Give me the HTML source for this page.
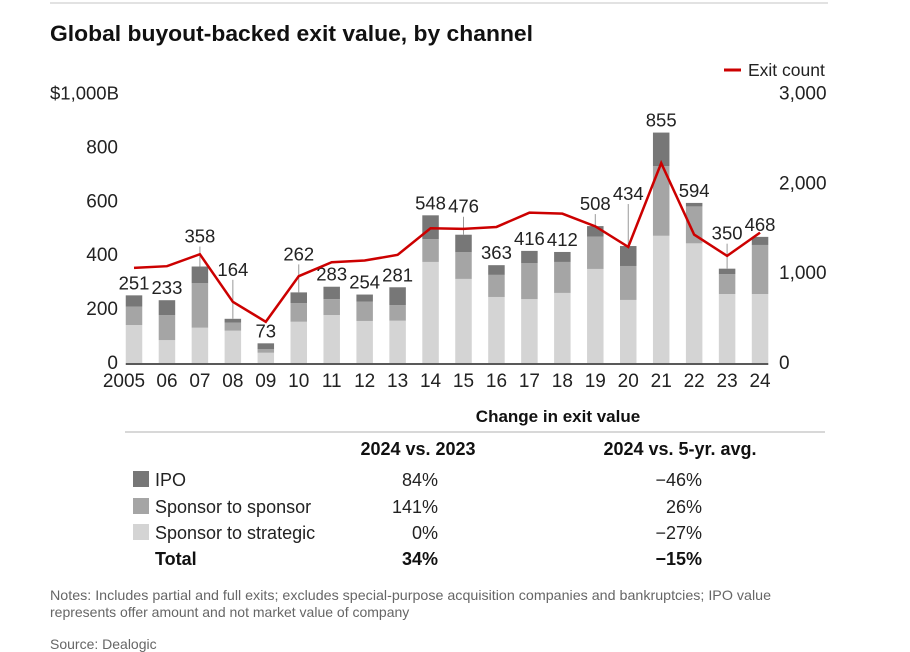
<!DOCTYPE html>
<html><head><meta charset="utf-8">
<style>
body{margin:0;background:#fff;font-family:"Liberation Sans",sans-serif;}
#wrap{position:relative;width:910px;height:652px;overflow:hidden;background:#fff;}
svg text{font-family:"Liberation Sans",sans-serif;}
</style></head>
<body>
<div id="wrap">
<svg id="svg" width="910" height="652" viewBox="0 0 910 652">
  <line x1="50" y1="3" x2="828" y2="3" stroke="#d8d8d8" stroke-width="1.5"/>
  <text x="50" y="41" font-size="22" font-weight="bold" fill="#111" textLength="483" lengthAdjust="spacingAndGlyphs">Global buyout-backed exit value, by channel</text>
  <line x1="724" y1="70" x2="741" y2="70" stroke="#cc0000" stroke-width="3"/>
  <text x="748" y="76" font-size="17.5" fill="#222">Exit count</text>
  <g id="chart"></g>
  <text x="558" y="422" font-size="17" font-weight="bold" text-anchor="middle" fill="#111">Change in exit value</text>
  <line x1="125" y1="432" x2="825" y2="432" stroke="#ccc" stroke-width="1.5"/>
  <text x="418" y="455" font-size="18" font-weight="bold" text-anchor="middle" fill="#111">2024 vs. 2023</text>
  <text x="680" y="455" font-size="18" font-weight="bold" text-anchor="middle" fill="#111">2024 vs. 5-yr. avg.</text>
  <rect x="133" y="471" width="16" height="16" fill="#777"/>
  <text x="155" y="486" font-size="18" fill="#222">IPO</text>
  <text x="438" y="486" font-size="18" text-anchor="end" fill="#222">84%</text>
  <text x="702" y="486" font-size="18" text-anchor="end" fill="#222">−46%</text>
  <rect x="133" y="498" width="16" height="16" fill="#a5a5a5"/>
  <text x="155" y="513" font-size="18" fill="#222">Sponsor to sponsor</text>
  <text x="438" y="513" font-size="18" text-anchor="end" fill="#222">141%</text>
  <text x="702" y="513" font-size="18" text-anchor="end" fill="#222">26%</text>
  <rect x="133" y="524" width="16" height="16" fill="#d4d4d4"/>
  <text x="155" y="539" font-size="18" fill="#222">Sponsor to strategic</text>
  <text x="438" y="539" font-size="18" text-anchor="end" fill="#222">0%</text>
  <text x="702" y="539" font-size="18" text-anchor="end" fill="#222">−27%</text>
  <text x="155" y="565" font-size="18" font-weight="bold" fill="#111">Total</text>
  <text x="438" y="565" font-size="18" font-weight="bold" text-anchor="end" fill="#111">34%</text>
  <text x="702" y="565" font-size="18" font-weight="bold" text-anchor="end" fill="#111">−15%</text>
  <text x="50" y="600" font-size="14" fill="#666" textLength="721" lengthAdjust="spacingAndGlyphs">Notes: Includes partial and full exits; excludes special-purpose acquisition companies and bankruptcies; IPO value</text>
  <text x="50" y="617" font-size="14" fill="#666">represents offer amount and not market value of company</text>
  <text x="50" y="649" font-size="14" fill="#666">Source: Dealogic</text>
</svg>
</div>
<script>
const years = ["2005","06","07","08","09","10","11","12","13","14","15","16","17","18","19","20","21","22","23","24"];
const strategic = [141,85,131,120,38,153,178,156,157,375,312,245,237,260,349,234,472,444,256,256];
const sponsor = [68,93,165,30,13,69,59,72,58,85,99,82,134,115,120,126,259,137,74,182];
const ipo = [42,55,62,14,22,40,46,26,66,88,65,36,45,37,39,74,124,13,20,30];
const totals = [251,233,358,164,73,262,283,254,281,548,476,363,416,412,508,434,855,594,350,468];
const exitCount = [1059,1078,1211,681,459,967,1122,1141,1204,1500,1493,1515,1674,1663,1522,1293,2226,1430,1193,1452];
const leftTicks = [0,200,400,600,800];
const rightTicks = [0,1000,2000,3000];
const labelLift = [0,0,18,37,0,26,0,0,0,0,16,0,0,0,10,40,0,0,23,0];

const NS="http://www.w3.org/2000/svg";
const g=document.getElementById('chart');
const y0=363, x0=134, step=32.95, bw=16.5;
const yL=v=>y0-v*0.2695;
const yR=v=>y0-v*0.0898;
const xC=i=>x0+i*step;
function mk(tag,attrs,parent){const e=document.createElementNS(NS,tag);for(const k in attrs)e.setAttribute(k,attrs[k]);(parent||g).appendChild(e);return e;}

leftTicks.forEach(t=>{
  const e=mk('text',{x:118,y:yL(t)+6,'font-size':19,'text-anchor':'end',fill:'#222'});
  
  
  e.textContent=t;
});
const lt=mk('text',{x:50,y:yL(1000)+6,'font-size':18.5,fill:'#222'});


lt.textContent='$1,000B';
rightTicks.forEach(t=>{
  const e=mk('text',{x:779,y:yR(t)+6,'font-size':19,fill:'#222'});
  
  
  e.textContent=t.toLocaleString('en-US');
});

years.forEach((yr,i)=>{
  const x=xC(i)-bw/2;
  const s1=yL(strategic[i]), s2=yL(strategic[i]+sponsor[i]), s3=yL(strategic[i]+sponsor[i]+ipo[i]);
  const a=mk('rect',{x:x,y:s1,width:bw,height:y0-s1,fill:'#d4d4d4'});
  
  
  const b=mk('rect',{x:x,y:s2,width:bw,height:s1-s2,fill:'#a5a5a5'});
  
  
  const c=mk('rect',{x:x,y:s3,width:bw,height:s2-s3,fill:'#777'});
  
  
  const top=yL(totals[i]);
  const ly=top-12-labelLift[i];
  if(labelLift[i]>0){
    const l=mk('line',{x1:xC(i),y1:ly+10,x2:xC(i),y2:top,stroke:'#999','stroke-width':1});
    
    
  }
  const t=mk('text',{x:xC(i),y:ly+6,'font-size':18.5,'text-anchor':'middle',fill:'#222'});
  
  
  t.textContent=totals[i];
  const xl=mk('text',{x:i===0?xC(i)-10:xC(i),y:387,'font-size':19,'text-anchor':'middle',fill:'#222'});
  
  
  xl.textContent=yr;
});
const ax=mk('line',{x1:x0-bw/2,y1:y0+1,x2:xC(19)+bw/2,y2:y0+1,stroke:'#222','stroke-width':1.5});


const pts=exitCount.map((v,i)=>xC(i)+','+yR(v)).join(' ');
const pl=mk('polyline',{points:pts,fill:'none',stroke:'#cc0000','stroke-width':2.5,'stroke-linejoin':'miter'});


</script>
</body></html>
